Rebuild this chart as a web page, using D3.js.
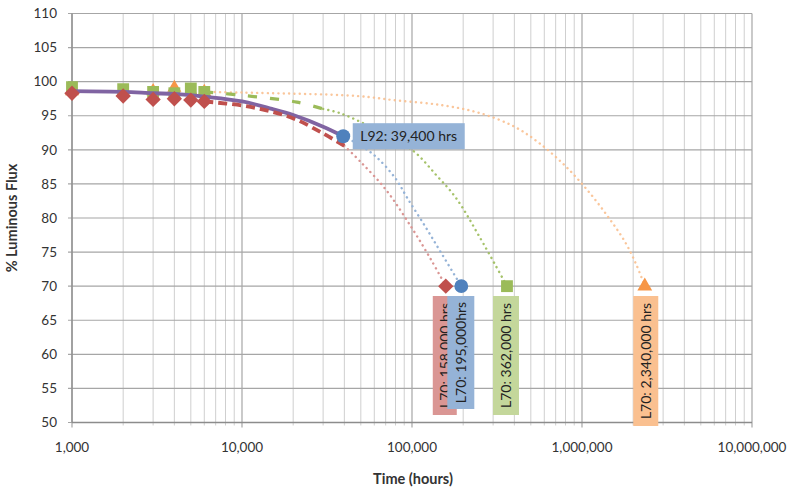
<!DOCTYPE html>
<html><head><meta charset="utf-8">
<script src="https://cdn.jsdelivr.net/npm/d3@7"></script>
<style>
body{margin:0;background:#fff;}
text{font-family:Lato,"Open Sans",sans-serif;}
</style></head>
<body><svg id="c" width="793" height="491"></svg>
<script>
// ---- data ----
const measTimes = [1000, 2000, 3000, 4000, 5000, 6000];
const redMeas    = [98.3, 97.9, 97.4, 97.5, 97.3, 97.1];
const greenMeas  = [99.2, 98.9, 98.5, 98.3, 99.0, 98.5];
const orangeMeas = [98.6, 98.5, 98.6, 99.1, 98.6, 98.5];

const purpleFitT = [1000, 2000, 3000, 4000, 6000, 10000, 15000, 20000, 30000, 39400];
const purpleFitV = [98.6, 98.5, 98.3, 98.2, 97.8, 97.1, 96.0, 95.1, 93.4, 92.0];

const redDashT = [6000, 10000, 15000, 21000, 30000, 40000];
const redDashV = [97.1, 96.5, 95.6, 94.4, 92.4, 90.6];
const redDotT  = [40000, 50000, 70000, 100000, 130000, 158000];
const redDotV  = [90.6, 88.2, 84.2, 78.5, 73.8, 70];

const blueDotT = [39400, 50000, 62000, 80000, 94000, 120000, 150000, 195000];
const blueDotV = [92.0, 90.6, 88.9, 85.8, 82.9, 78.7, 74.7, 70];

const greenDashT = [6000, 10000, 21000, 30000];
const greenDashV = [98.5, 98.0, 97.0, 96.0];
const greenDotT  = [30000, 37500, 60000, 100000, 140000, 182000, 250000, 362000];
const greenDotV  = [96.0, 95.4, 93.1, 90.0, 86.2, 82.9, 77.2, 70];

const orangeDotT = [6000, 10000, 47000, 81000, 150000, 250000, 400000, 560000, 800000, 1100000, 1450000, 1800000, 2100000, 2340000];
const orangeDotV = [98.5, 98.4, 97.9, 97.25, 96.55, 95.4, 93.4, 91.0, 87.6, 83.8, 79.9, 76.4, 73.0, 70];

const yTicks = [50, 55, 60, 65, 70, 75, 80, 85, 90, 95, 100, 105, 110];
const xTicks = [1000, 10000, 100000, 1000000, 10000000];

const L92 = {t: 39400, v: 92, label: "L92: 39,400 hrs"};
const L70 = [
  {t: 158000, label: "L70: 158,000 hrs", key: "red"},
  {t: 195000, label: "L70: 195,000hrs", key: "blue"},
  {t: 362000, label: "L70: 362,000 hrs", key: "green"},
  {t: 2340000, label: "L70: 2,340,000 hrs", key: "orange"}
];

// ---- drawing ----
const C = {red:"#C0504D", blue:"#4F81BD", green:"#9BBB59", orange:"#F79646", purple:"#8064A2",
  redBox:"#DA9694", blueBox:"#95B3D7", greenBox:"#C4D79B", orangeBox:"#FAC090"};
const svg = d3.select("#c");
const m = {l:72, r:752, t:13.5, b:422.5};
const x = d3.scaleLog().domain([1000, 10000000]).range([m.l, m.r]);
const y = d3.scaleLinear().domain([50, 110]).range([m.b, m.t]);

// minor vertical gridlines
const minors = [];
for (let d = 1000; d < 10000000; d *= 10) for (let k = 2; k <= 9; k++) minors.push(d*k);
svg.append("g").selectAll("line").data(minors).join("line")
  .attr("x1", d=>x(d)).attr("x2", d=>x(d)).attr("y1", m.t).attr("y2", m.b + 3)
  .attr("stroke", "#CFCFCF").attr("stroke-width", 1);
// major vertical
svg.append("g").selectAll("line").data(xTicks).join("line")
  .attr("x1", d=>x(d)).attr("x2", d=>x(d)).attr("y1", m.t).attr("y2", m.b + 5)
  .attr("stroke", "#A6A6A6").attr("stroke-width", 1.2);
// horizontal gridlines
svg.append("g").selectAll("line").data(yTicks).join("line")
  .attr("x1", m.l - 4).attr("x2", m.r).attr("y1", d=>y(d)).attr("y2", d=>y(d))
  .attr("stroke", "#A6A6A6").attr("stroke-width", 1.2);
// axis lines
svg.append("line").attr("x1", m.l).attr("x2", m.l).attr("y1", m.t).attr("y2", m.b).attr("stroke", "#8C8C8C").attr("stroke-width",1.3);
svg.append("line").attr("x1", m.l).attr("x2", m.r).attr("y1", m.b).attr("y2", m.b).attr("stroke", "#8C8C8C").attr("stroke-width",1.3);

// tick labels
const fmt = d3.format(",");
svg.append("g").selectAll("text").data(yTicks).join("text")
  .attr("x", 57).attr("y", d=>y(d)).attr("dy", "0.35em").attr("text-anchor", "end")
  .attr("font-size", 13.5).attr("fill", "#333").text(d=>d);
svg.append("g").selectAll("text").data(xTicks).join("text")
  .attr("x", d=>x(d)).attr("y", 452).attr("text-anchor", "middle")
  .attr("font-size", 13.5).attr("fill", "#333").text(d=>fmt(d));

// axis titles
svg.append("text").attr("x", 413).attr("y", 484).attr("text-anchor", "middle")
  .attr("font-size", 14.5).attr("font-weight", "bold").attr("fill", "#333").text("Time (hours)");
svg.append("text").attr("transform", "translate(17,218) rotate(-90)").attr("text-anchor", "middle")
  .attr("font-size", 14.5).attr("font-weight", "bold").attr("fill", "#333").text("% Luminous Flux");

const line = d3.line().x(d=>x(d[0])).y(d=>y(d[1])).curve(d3.curveCatmullRom.alpha(0.5));
const zip = (a, b) => a.map((t, i) => [t, b[i]]);
function path(data, color, w, dash, op) {
  svg.append("path").attr("d", line(data)).attr("fill", "none").attr("stroke", color)
    .attr("stroke-width", w).attr("stroke-dasharray", dash || null)
    .attr("stroke-linecap", dash && dash.startsWith("0") ? "round" : "butt")
    .attr("opacity", op || 1);
}
// dotted projections
path(zip(orangeDotT, orangeDotV), C.orangeBox, 2.4, "0.1,5.2", 0.9);
path(zip(greenDotT, greenDotV), C.green, 2.4, "0.1,5.2", 0.9);
path(zip(blueDotT, blueDotV), C.blueBox, 2.4, "0.1,5.2", 1);
path(zip(redDotT, redDotV), C.redBox, 2.4, "0.1,5.2", 1);

const sym = (type, size) => d3.symbol().type(type).size(size)();
// orange triangles
svg.append("g").selectAll("path").data(zip(measTimes, orangeMeas)).join("path")
  .attr("d", sym(d3.symbolTriangle, 85)).attr("transform", d=>`translate(${x(d[0])},${y(d[1])})`).attr("fill", C.orange);
// green squares
svg.append("g").selectAll("path").data(zip(measTimes, greenMeas)).join("path")
  .attr("d", sym(d3.symbolSquare, 140)).attr("transform", d=>`translate(${x(d[0])},${y(d[1])})`).attr("fill", C.green);
path(zip(greenDashT, greenDashV), C.green, 3.2, "9,13");
// purple fit
path(zip(purpleFitT, purpleFitV), C.purple, 3.8);
// red dashed
path(zip(redDashT, redDashV), C.red, 3.8, "9,5");
// red diamonds
svg.append("g").selectAll("path").data(zip(measTimes, redMeas)).join("path")
  .attr("d", sym(d3.symbolDiamond2, 150)).attr("transform", d=>`translate(${x(d[0])},${y(d[1])})`).attr("fill", C.red);

// L92 point and label
svg.append("circle").attr("cx", x(L92.t)).attr("cy", y(L92.v)).attr("r", 7).attr("fill", C.blue);
svg.append("rect").attr("x", x(L92.t) + 9.5).attr("y", y(L92.v) - 13).attr("width", 112).attr("height", 26).attr("fill", C.blueBox);
svg.append("text").attr("x", x(L92.t) + 65.5).attr("y", y(L92.v)).attr("dy", "0.35em").attr("text-anchor", "middle")
  .attr("font-size", 14).attr("fill", "#222").text(L92.label);

// L70 labels (rotated boxes)
const boxH = {red:119, blue:113, green:119, orange:130};
const boxW = {red:24, blue:27, green:26, orange:25};
const boxCol = {red:C.redBox, blue:C.blueBox, green:C.greenBox, orange:C.orangeBox};
const boxDx = {red:-13, blue:-14, green:-14, orange:-11.5};
L70.forEach(d => {
  const cx = x(d.t) + boxDx[d.key];
  const g = svg.append("g");
  g.append("rect").attr("x", cx).attr("y", 296).attr("width", boxW[d.key]).attr("height", boxH[d.key]).attr("fill", boxCol[d.key]);
  g.append("text").attr("transform", `translate(${cx + boxW[d.key]/2},${296 + boxH[d.key]/2}) rotate(-90)`)
    .attr("text-anchor", "middle").attr("dy", "0.35em").attr("font-size", 14).attr("fill", "#222").text(d.label);
});
// L70 markers
const mk = {red:[d3.symbolDiamond2, 150, C.red], blue:[d3.symbolCircle, 150, C.blue], green:[d3.symbolSquare, 140, C.green], orange:[d3.symbolTriangle, 95, C.orange]};
L70.forEach(d => {
  const s = mk[d.key];
  svg.append("path").attr("d", sym(s[0], s[1])).attr("transform", `translate(${x(d.t)},${y(70)})`).attr("fill", s[2]);
});
</script></body></html>
